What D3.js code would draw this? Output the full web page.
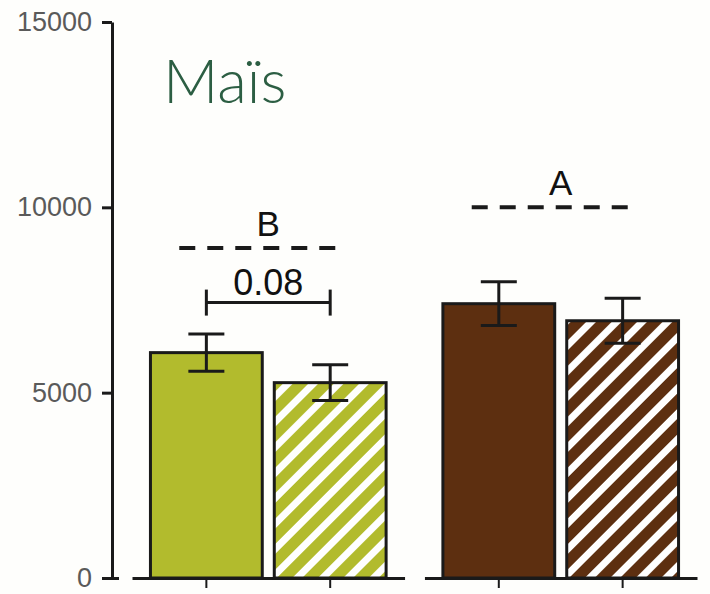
<!DOCTYPE html>
<html>
<head>
<meta charset="utf-8">
<script src="https://cdn.jsdelivr.net/npm/d3@7"></script>
<style>
  html, body { margin: 0; padding: 0; background: #fefefc; }
  svg { display: block; }
</style>
</head>
<body>
<svg id="chart" width="710" height="594"></svg>
<script>
// Crop label and treatment groups
const title = "Maïs";
const groups = ["vert", "brun"];
const treatments = ["plein", "hachuré"];
const groupColors = ["#b2bb2d", "#5d2f10"];

// Bar means and standard errors, per group then per treatment
const means = [[6080, 5270], [7400, 6940]];
const errors = [[500, 480], [590, 610]];

// Statistical letters per group and the level of their dashed lines
const letters = ["B", "A"];
const letterLevels = [8900, 10000];

// Pairwise comparison inside the first group
const pValueLabel = "0.08";
const pValueLevel = 7430;
const pValueGroup = 0;

// Y axis ticks
const yTicks = [0, 5000, 10000, 15000];

const svg = d3.select("#chart");
const ink = "#1a1a1a";

const y = d3.scaleLinear().domain([0, 15000]).range([578, 22]);

const xGroup = d3.scaleBand().domain(groups).range([132, 697]).paddingInner(0.068).paddingOuter(0);
const xInner = d3.scaleBand().domain(treatments).range([0, xGroup.bandwidth()])
  .paddingInner(0.097).paddingOuter(0.149);

// Hatch patterns: white diagonal stripes over the group colour
const defs = svg.append("defs");
groups.forEach((g, i) => {
  const p = defs.append("pattern")
    .attr("id", "hatch-" + i)
    .attr("patternUnits", "userSpaceOnUse")
    .attr("width", 18).attr("height", 18)
    .attr("patternTransform", "rotate(45)");
  p.append("rect").attr("width", 18).attr("height", 18).attr("fill", groupColors[i]);
  p.append("rect").attr("x", 0).attr("width", 7).attr("height", 18).attr("fill", "#ffffff");
});

// Title
svg.append("text")
  .attr("x", 163).attr("y", 103)
  .attr("font-family", "Lato, 'Open Sans', sans-serif")
  .attr("font-weight", 300)
  .attr("font-size", 61)
  .attr("fill", "#2c5e43")
  .text(title);

// Y axis
const yAxis = svg.append("g")
  .attr("transform", "translate(112,0)")
  .call(d3.axisLeft(y).tickValues(yTicks).tickSize(10).tickSizeOuter(0).tickPadding(10).tickFormat(d3.format("d")));
yAxis.select(".domain").attr("stroke", ink).attr("stroke-width", 3);
yAxis.selectAll(".tick line").attr("stroke", ink).attr("stroke-width", 3);
yAxis.selectAll(".tick text")
  .attr("font-family", "'Liberation Sans', Arial, sans-serif")
  .attr("font-size", 27)
  .attr("fill", "#5a5a5a");
// Short overhang of the zero tick past the axis line
yAxis.selectAll(".tick").filter(d => d === 0).select("line").attr("x2", 7).attr("x1", -10);

// One group of bars per x-axis segment
groups.forEach((g, gi) => {
  const gx = xGroup(g);
  const grp = svg.append("g").attr("transform", `translate(${gx},0)`);

  const xa = grp.append("g")
    .attr("transform", `translate(0,${y(0)})`)
    .call(d3.axisBottom(xInner).tickSize(10).tickSizeOuter(0).tickFormat(""));
  xa.select(".domain").attr("stroke", ink).attr("stroke-width", 3);
  xa.selectAll(".tick line").attr("stroke", ink).attr("stroke-width", 2);

  const rows = treatments.map((t, ti) => ({ t, ti, v: means[gi][ti], e: errors[gi][ti] }));

  grp.selectAll("rect.bar").data(rows).join("rect")
    .attr("class", "bar")
    .attr("x", d => xInner(d.t))
    .attr("y", d => y(d.v))
    .attr("width", xInner.bandwidth())
    .attr("height", d => y(0) - y(d.v))
    .attr("fill", d => d.ti === 0 ? groupColors[gi] : `url(#hatch-${gi})`)
    .attr("stroke", ink)
    .attr("stroke-width", 3);

  // Error bars
  const cap = 18;
  const eb = grp.selectAll("g.err").data(rows).join("g").attr("class", "err")
    .attr("transform", d => `translate(${xInner(d.t) + xInner.bandwidth() / 2},0)`);
  eb.append("line")
    .attr("y1", d => y(d.v + d.e)).attr("y2", d => y(d.v - d.e))
    .attr("stroke", ink).attr("stroke-width", 3);
  eb.append("line")
    .attr("x1", -cap).attr("x2", cap)
    .attr("y1", d => y(d.v + d.e)).attr("y2", d => y(d.v + d.e))
    .attr("stroke", ink).attr("stroke-width", 3);
  eb.append("line")
    .attr("x1", -cap).attr("x2", cap)
    .attr("y1", d => y(d.v - d.e)).attr("y2", d => y(d.v - d.e))
    .attr("stroke", ink).attr("stroke-width", 3);

  // Group letter over a dashed line
  const x0 = xInner(treatments[0]);
  const x1 = xInner(treatments[1]) + xInner.bandwidth();
  const mid = (x0 + x1) / 2;
  grp.append("line")
    .attr("x1", mid - 89).attr("x2", mid + 78)
    .attr("y1", y(letterLevels[gi])).attr("y2", y(letterLevels[gi]))
    .attr("stroke", ink).attr("stroke-width", 4)
    .attr("stroke-dasharray", "16 12");
  grp.append("text")
    .attr("x", mid).attr("y", y(letterLevels[gi]) - 12)
    .attr("text-anchor", "middle")
    .attr("font-family", "'Liberation Sans', Arial, sans-serif")
    .attr("font-size", 35)
    .attr("fill", "#111")
    .text(letters[gi]);

  // Comparison bracket between the two treatments
  if (gi === pValueGroup) {
    const c0 = xInner(treatments[0]) + xInner.bandwidth() / 2;
    const c1 = xInner(treatments[1]) + xInner.bandwidth() / 2;
    const py = y(pValueLevel);
    const br = grp.append("g").attr("stroke", ink).attr("stroke-width", 3);
    br.append("line").attr("x1", c0).attr("x2", c1).attr("y1", py).attr("y2", py);
    br.append("line").attr("x1", c0).attr("x2", c0).attr("y1", py - 13).attr("y2", py + 13);
    br.append("line").attr("x1", c1).attr("x2", c1).attr("y1", py - 13).attr("y2", py + 13);
    grp.append("text")
      .attr("x", (c0 + c1) / 2).attr("y", py - 8)
      .attr("text-anchor", "middle")
      .attr("font-family", "'Liberation Sans', Arial, sans-serif")
      .attr("font-size", 36)
      .attr("fill", "#111")
      .text(pValueLabel);
  }
});
</script>
</body>
</html>
